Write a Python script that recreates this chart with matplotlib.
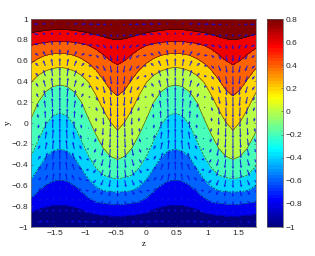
#Import Libraries
import numpy as np
import matplotlib
matplotlib.use("Agg")
import matplotlib.pyplot as plt
from matplotlib.colors import ListedColormap

plt.rcParams['font.family'] = ['Liberation Sans', 'DejaVu Sans']
plt.rcParams['font.size'] = 6

#Contour heights, one half period from peak to valley
levels = [-0.8, -0.6, -0.4, -0.2, 0.0, 0.2, 0.4, 0.6, 0.8]
line_m08 = [-.79, -.795, -.81, -.83, -.865, -.88, -.89, -.895, -.897]
line_m06 = [-.55, -.56, -.60, -.66, -.72, -.76, -.775, -.78, -.785]
line_m04 = [-.25, -.27, -.33, -.44, -.54, -.61, -.65, -.66, -.665]
line_m02 = [.096, .07, -.02, -.17, -.32, -.43, -.50, -.525, -.535]
line_00 = [.365, .35, .30, .20, .04, -.11, -.24, -.32, -.35]
line_02 = [.535, .525, .50, .46, .39, .27, .13, .01, -.07]
line_04 = [.67, .665, .65, .62, .575, .51, .42, .32, .26]
line_06 = [.785, .783, .775, .765, .745, .71, .66, .60, .56]
line_08 = [.90, .897, .89, .88, .868, .85, .83, .81, .80]

#Arrows: column profiles over the same half period, row sizes bottom to top
arrow_y = [-.95, -.85, -.75, -.65, -.55, -.45, -.35, -.25, -.15, -.05,
           .05, .15, .25, .35, .45, .55, .65, .75, .85, .95]
w_col = [1, .92, .71, .38, 0, -.38, -.71, -.92, -1]
u_col = [0, .38, .71, .92, 1, .92, .71, .38, 0]
w_row = [.008, .025, .045, .062, .076, .087, .094, .098, .10, .10,
         .10, .10, .098, .094, .087, .076, .062, .045, .025, .008]
u_row = [-.08, -.076, -.068, -.06, -.055, -.05, -.045, -.035, -.025, -.01,
         .01, .025, .035, .045, .05, .055, .06, .068, .076, .08]

z_peak = -1.414
half_period = 0.9425
z_min, z_max = -1.885, 1.79
cticks = [-1, -0.8, -0.6, -0.4, -0.2, 0, 0.2, 0.4, 0.6, 0.8]

#Repeat the half period table along z
lines = np.array([line_m08, line_m06, line_m04, line_m02, line_00,
                  line_02, line_04, line_06, line_08])
step = half_period / 8
def tile(tab, sign=1):
    tab = np.asarray(tab, float)
    back = sign * tab[..., ::-1][..., 1:]
    one = np.concatenate([tab, back[..., :-1]], axis=-1)
    return np.concatenate([one[..., 12:], one, one, one[..., :9]], axis=-1)

line_grid = tile(lines)
z = z_peak - 0.5 * half_period + step * np.arange(line_grid.shape[1])
z_grid = np.tile(z, (11, 1))
y_grid = np.vstack([np.full(z.size, -1.0), line_grid, np.full(z.size, 1.0)])
val = np.array([-1.0] + levels + [1.0])
v_grid = np.repeat(val[:, None], z.size, axis=1)

#MATLAB style jet, matplotlib's own is a bit different
t = np.linspace(0, 1, 64)
jet_rgb = np.clip(1.5 - np.abs(4 * t[:, None] - np.array([3, 2, 1])), 0, 1)
cmap = ListedColormap(jet_rgb)
norm = plt.Normalize(-1, 0.8)

fig = plt.figure(figsize=(3.15, 2.56), dpi=100)
ax = fig.add_axes([31/315, 29/256, 225/315, 208/256])
fill_levels = [-1.0] + levels + [1.0]
colors = [cmap(norm(l)) for l in fill_levels[:-1]]
ax.contourf(z_grid, y_grid, v_grid, levels=fill_levels, colors=colors)
ax.contour(z_grid, y_grid, v_grid, levels=levels, colors='k', linewidths=0.45, alpha=0.7)

#Arrows
w_tab = np.outer(w_row, tile(w_col))
u_tab = np.outer(u_row, tile(u_col, sign=-1))
qz, qy = np.meshgrid(z, arrow_y)
keep = (qz >= z_min) & (qz <= z_max)
ax.quiver(qz[keep], qy[keep], u_tab[keep], w_tab[keep], color=(0.05, 0.05, 0.9), alpha=0.85,
          angles='xy', scale_units='xy', scale=1, units='dots', width=1.1,
          headwidth=2.6, headlength=2.5, headaxislength=2.2, zorder=3)

ax.set_xlim(z_min, z_max)
ax.set_ylim(-1, 1)
ax.set_xticks([-1.5, -1, -0.5, 0, 0.5, 1, 1.5])
ax.set_xticklabels(['\u22121.5', '\u22121', '\u22120.5', '0', '0.5', '1', '1.5'])
ax.set_yticks(np.arange(-1, 1.01, 0.2).round(1))
ax.set_yticklabels(['\u22121', '\u22120.8', '\u22120.6', '\u22120.4', '\u22120.2', '0', '0.2', '0.4', '0.6', '0.8', '1'])
ax.tick_params(direction='in', length=1.5, width=0.4, top=True, right=True, pad=2, color='0.3', labelcolor='0.15')
for s in ax.spines.values():
    s.set_linewidth(0.5)
    s.set_color('0.45')
ax.set_xlabel('z', fontsize=6.5, labelpad=2.5, family='Liberation Serif')
ax.set_ylabel('y', fontsize=6.5, labelpad=0, family='Liberation Serif')

#Colorbar
cax = fig.add_axes([267/315, 29/256, 16/315, 208/256])
sm = plt.cm.ScalarMappable(norm=norm, cmap=cmap)
cb = fig.colorbar(sm, cax=cax)
cb.set_ticks(cticks)
cb.set_ticklabels(['\u22121', '\u22120.8', '\u22120.6', '\u22120.4', '\u22120.2', '0', '0.2', '0.4', '0.6', '0.8'])
cb.ax.tick_params(direction='in', length=1.5, width=0.4, pad=2, color='0.3', labelcolor='0.15')
cb.outline.set_linewidth(0.5)
cb.outline.set_edgecolor('0.35')

fig.savefig('out.png', dpi=100)
